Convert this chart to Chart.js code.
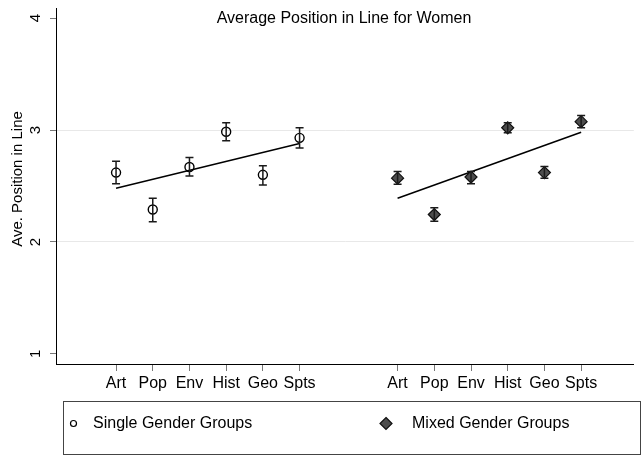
<!DOCTYPE html>
<html>
<head>
<meta charset="utf-8">
<style>
  html, body { margin: 0; padding: 0; background: #fff; }
  #wrap { width: 641px; height: 456px; }
</style>
</head>
<body>
<div id="wrap"><canvas id="posChart" width="641" height="456"></canvas></div>

<script src="https://cdn.jsdelivr.net/npm/chart.js"></script>
<script>
  // values
  const chartTitle = 'Average Position in Line for Women';
  const yTitle = 'Ave. Position in Line';
  const categories = ['Art', 'Pop', 'Env', 'Hist', 'Geo', 'Spts'];
  const singlePos = [1, 2, 3, 4, 5, 6];
  const mixedPos = [8.67, 9.67, 10.67, 11.67, 12.67, 13.67];

  const singleMean = [2.62, 2.29, 2.67, 2.985, 2.60, 2.93];
  const singleLow  = [2.52, 2.18, 2.59, 2.905, 2.51, 2.84];
  const singleHigh = [2.72, 2.39, 2.755, 3.065, 2.68, 3.02];

  const mixedMean = [2.57, 2.245, 2.58, 3.02, 2.62, 3.075];
  const mixedLow  = [2.515, 2.185, 2.52, 2.975, 2.57, 3.02];
  const mixedHigh = [2.63, 2.305, 2.63, 3.065, 2.675, 3.13];

  const singleFit = [2.48, 2.88];   // fitted line at first and last category
  const mixedFit = [2.39, 2.98];
  const yTicks = [1, 2, 3, 4];

  const FONT = '"Liberation Sans", Arial, Helvetica, sans-serif';
  Chart.defaults.font.family = FONT;
  Chart.defaults.color = '#000';

  const toPoints = (xs, ys) => xs.map((x, i) => ({ x: x, y: ys[i] }));

  // error bars, title, y labels and the boxed legend
  const extras = {
    id: 'extras',
    afterDatasetsDraw(chart) {
      const ctx = chart.ctx;
      const xs = chart.scales.x, ys = chart.scales.y;
      const bars = [[singlePos, singleLow, singleHigh], [mixedPos, mixedLow, mixedHigh]];
      ctx.save();
      ctx.strokeStyle = '#1a1a1a';
      ctx.lineWidth = 1.5;
      bars.forEach(([pos, lo, hi]) => {
        pos.forEach((p, i) => {
          const px = xs.getPixelForValue(p);
          const y1 = ys.getPixelForValue(lo[i]);
          const y2 = ys.getPixelForValue(hi[i]);
          ctx.beginPath();
          ctx.moveTo(px, y1); ctx.lineTo(px, y2);
          ctx.moveTo(px - 4, y1); ctx.lineTo(px + 4, y1);
          ctx.moveTo(px - 4, y2); ctx.lineTo(px + 4, y2);
          ctx.stroke();
        });
      });
      ctx.restore();
    },
    afterDraw(chart) {
      const ctx = chart.ctx;
      const ys = chart.scales.y;
      ctx.save();
      ctx.fillStyle = '#000';

      // title
      ctx.font = '16px ' + FONT;
      ctx.textAlign = 'center';
      ctx.textBaseline = 'middle';
      ctx.fillText(chartTitle, 344, 19);

      // rotated y tick labels
      ctx.font = '15px ' + FONT;
      yTicks.forEach(v => {
        ctx.save();
        ctx.translate(36, ys.getPixelForValue(v));
        ctx.rotate(-Math.PI / 2);
        ctx.fillText(String(v), 0, 0);
        ctx.restore();
      });

      // y axis title
      ctx.save();
      ctx.translate(18, 179);
      ctx.rotate(-Math.PI / 2);
      ctx.fillText(yTitle, 0, 0);
      ctx.restore();

      // legend box
      ctx.strokeStyle = '#444';
      ctx.lineWidth = 1;
      ctx.strokeRect(63.5, 401.5, 577, 53);
      const ds = chart.data.datasets;
      ctx.font = '16px ' + FONT;
      ctx.textAlign = 'left';
      ctx.textBaseline = 'middle';

      ctx.beginPath();
      ctx.arc(73.5, 423.5, 3, 0, Math.PI * 2);
      ctx.lineWidth = 1.2;
      ctx.strokeStyle = '#000';
      ctx.stroke();
      ctx.fillText(ds[0].label, 93, 424);

      ctx.beginPath();
      ctx.moveTo(386, 417.5); ctx.lineTo(392, 423.5);
      ctx.lineTo(386, 429.5); ctx.lineTo(380, 423.5);
      ctx.closePath();
      ctx.fillStyle = '#4d4d4d';
      ctx.fill();
      ctx.strokeStyle = '#111';
      ctx.stroke();
      ctx.fillStyle = '#000';
      ctx.fillText(ds[1].label, 412, 424);
      ctx.restore();
    }
  };

  new Chart(document.getElementById('posChart').getContext('2d'), {
    type: 'scatter',
    data: {
      datasets: [
        {
          label: 'Single Gender Groups',
          data: toPoints(singlePos, singleMean),
          pointStyle: 'circle',
          pointRadius: 4.5,
          backgroundColor: 'rgba(255,255,255,0)',
          borderColor: '#000',
          borderWidth: 1.4
        },
        {
          label: 'Mixed Gender Groups',
          data: toPoints(mixedPos, mixedMean),
          pointStyle: 'rectRot',
          pointRadius: 6,
          backgroundColor: '#4d4d4d',
          borderColor: '#111',
          borderWidth: 1.2
        },
        {
          label: 'fit single',
          type: 'line',
          data: toPoints([singlePos[0], singlePos[5]], singleFit),
          borderColor: '#000',
          borderWidth: 1.5,
          pointRadius: 0,
          fill: false
        },
        {
          label: 'fit mixed',
          type: 'line',
          data: toPoints([mixedPos[0], mixedPos[5]], mixedFit),
          borderColor: '#000',
          borderWidth: 1.5,
          pointRadius: 0,
          fill: false
        }
      ]
    },
    options: {
      responsive: false,
      animation: false,
      layout: { padding: { top: 8, right: 1, left: 0, bottom: 0 } },
      plugins: {
        legend: { display: false },
        tooltip: { enabled: false },
        title: { display: false }
      },
      scales: {
        x: {
          type: 'linear',
          min: -0.636,
          max: 15.105,
          afterBuildTicks: s => { s.ticks = singlePos.concat(mixedPos).map(v => ({ value: v })); },
          afterFit: s => { s.height = 92; },
          grid: { drawOnChartArea: false, tickLength: 7, tickColor: '#777' },
          border: { color: '#000', width: 1 },
          ticks: {
            autoSkip: false,
            maxRotation: 0,
            minRotation: 0,
            padding: 3,
            font: { size: 16 },
            callback: (v, i) => categories[i % categories.length]
          }
        },
        y: {
          min: 0.91,
          max: 4.09,
          afterBuildTicks: s => { s.ticks = yTicks.map(v => ({ value: v })); },
          afterFit: s => { s.width = 56; },
          grid: {
            color: c => (c.tick && (c.tick.value === 2 || c.tick.value === 3)) ? '#e8e8e8' : 'rgba(0,0,0,0)',
            tickColor: '#777',
            tickLength: 6
          },
          border: { color: '#000', width: 1 },
          ticks: { display: false }
        }
      }
    },
    plugins: [extras]
  });
</script>
</body>
</html>
